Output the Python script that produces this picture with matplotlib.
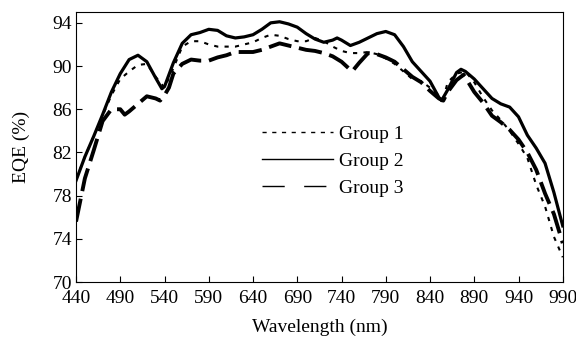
import numpy as np
import matplotlib.pyplot as plt
from matplotlib.lines import Line2D

plt.rcParams['font.family'] = ['Liberation Serif', 'DejaVu Serif']

# Group 2 (solid)
wl_g2 = [440, 450, 460, 470, 480, 490, 500, 510, 520, 530, 537, 540, 550, 560, 570, 580,
         590, 600, 610, 620, 630, 640, 650, 660, 670, 680, 690, 700, 710, 720, 730, 735,
         740, 750, 760, 770, 780, 790, 800, 810, 820, 830, 840, 850, 853, 860, 870, 875,
         880, 890, 900, 910, 920, 930, 940, 950, 960, 970, 980, 990]
eqe_g2 = [79.4, 81.6, 83.5, 85.5, 87.6, 89.3, 90.6, 91.0, 90.4, 88.9, 87.9, 88.1, 90.3, 92.1, 92.9, 93.1,
          93.4, 93.3, 92.8, 92.6, 92.7, 92.9, 93.4, 94.0, 94.1, 93.9, 93.6, 93.0, 92.5, 92.2, 92.4, 92.6,
          92.4, 91.9, 92.2, 92.6, 93.0, 93.2, 92.9, 91.8, 90.4, 89.5, 88.6, 87.1, 86.8, 87.8, 89.4, 89.7,
          89.5, 88.8, 87.9, 87.0, 86.5, 86.2, 85.3, 83.6, 82.4, 81.0, 78.3, 75.2]

# Group 1 (dotted)
wl_g1 = [440, 450, 460, 470, 480, 490, 500, 510, 520, 530, 540, 550, 560, 570, 580, 590,
         600, 610, 620, 630, 640, 650, 660, 670, 680, 690, 700, 710, 720, 730, 740, 750,
         760, 770, 780, 790, 800, 810, 820, 830, 840, 850, 855, 860, 870, 880, 890, 900,
         910, 920, 930, 940, 950, 960, 970, 980, 990]
eqe_g1 = [79.5, 81.6, 83.5, 85.4, 87.3, 88.8, 89.5, 90.1, 90.2, 89.0, 88.0, 89.8, 91.8, 92.3, 92.3, 92.0,
          91.8, 91.8, 91.8, 92.0, 92.2, 92.6, 92.9, 92.8, 92.5, 92.3, 92.3, 92.6, 92.3, 91.8, 91.4, 91.2,
          91.2, 91.3, 91.1, 90.7, 90.2, 89.5, 88.8, 88.6, 88.0, 87.3, 87.0, 88.5, 89.3, 89.5, 88.5, 87.1,
          85.9, 85.0, 84.0, 82.8, 81.5, 79.0, 77.0, 74.2, 72.3]

# Group 3 (long dash)
wl_g3 = [440, 446, 450, 460, 470, 480, 490, 495, 500, 510, 520, 530, 535, 540, 545, 550,
         560, 570, 580, 590, 600, 610, 620, 630, 640, 650, 660, 670, 680, 690, 700, 710,
         720, 730, 740, 752, 760, 770, 780, 790, 800, 810, 820, 830, 840, 850, 855, 860,
         870, 878, 890, 900, 910, 920, 930, 940, 950, 960, 970, 980, 990]
eqe_g3 = [75.6, 78.0, 79.6, 82.2, 84.9, 86.0, 86.0, 85.5, 85.8, 86.5, 87.2, 87.0, 86.8, 87.3, 88.0, 89.3,
          90.2, 90.6, 90.5, 90.5, 90.8, 91.0, 91.3, 91.3, 91.3, 91.5, 91.8, 92.1, 91.9, 91.7, 91.5, 91.4,
          91.2, 90.9, 90.4, 89.5, 90.3, 91.2, 91.1, 90.8, 90.4, 89.7, 89.0, 88.5, 87.7, 87.0, 86.8, 87.6,
          88.7, 89.2, 87.6, 86.6, 85.4, 84.8, 84.1, 83.2, 82.0, 80.4, 78.2, 76.3, 73.6]

xticks = list(range(440, 991, 50))
yticks = list(range(70, 95, 4))

fig = plt.figure(figsize=(5.76, 3.44), dpi=100)
ax = fig.add_axes([0.132, 0.180, 0.845, 0.785])

ax.plot(wl_g1, eqe_g1, color='black', linewidth=1.5, dashes=(2, 3))
ax.plot(wl_g2, eqe_g2, color='black', linewidth=2.3)
ax.plot(wl_g3, eqe_g3, color='black', linewidth=2.8, dashes=(6, 2))

ax.set_xlim(440, 990)
ax.set_ylim(70, 95)
ax.set_xticks(xticks)
ax.set_yticks(yticks)
ax.tick_params(direction='in', length=4, labelsize=14, top=False, right=False)
ax.tick_params(axis='x', pad=6)
ax.tick_params(axis='y', pad=3)
ax.set_xlabel('Wavelength (nm)', fontsize=14, labelpad=8)
ax.set_ylabel('EQE (%)', fontsize=14, labelpad=16)

handles = [Line2D([], [], color='black', linewidth=1.0, dashes=(3, 4)),
           Line2D([], [], color='black', linewidth=1.0),
           Line2D([], [], color='black', linewidth=1.0, dashes=(16, 14))]
ax.legend(handles, ['Group 1', 'Group 2', 'Group 3'], frameon=False, fontsize=14,
          handlelength=3.66, handletextpad=0.3, labelspacing=0.5,
          borderpad=0, borderaxespad=0,
          loc='upper left', bbox_to_anchor=(0.382, 0.582))

fig.savefig('out.png', dpi=100)
